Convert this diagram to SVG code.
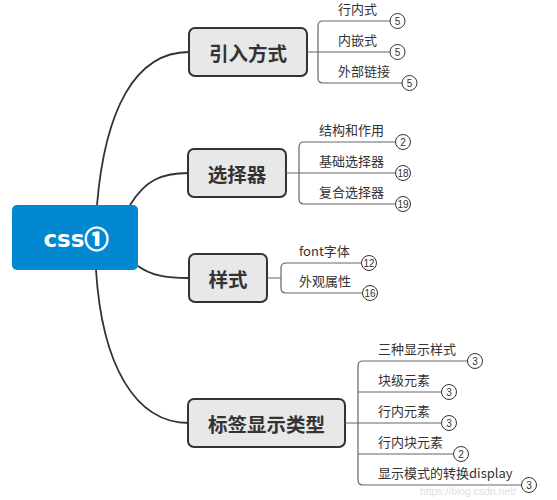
<svg xmlns="http://www.w3.org/2000/svg" width="557" height="500" viewBox="0 0 557 500">
<style>
.root{fill:#0288d1;}
.roottxt{font-family:"DejaVu Sans","Noto Sans CJK SC",sans-serif;font-weight:bold;font-size:23px;fill:#fff;text-anchor:middle;}
.circ{font-family:"Noto Sans CJK SC",sans-serif;font-size:24px;font-weight:bold;stroke:#fff;stroke-width:1.2;}
.box{fill:#e8e8e8;stroke:#333;stroke-width:2;}
.btxt{font-family:"Noto Sans CJK SC",sans-serif;font-weight:bold;font-size:19.5px;fill:#333;text-anchor:middle;dominant-baseline:central;}
.conn{fill:none;stroke:#333;stroke-width:1.8;}
.br{fill:none;stroke:#666;stroke-width:1.2;}
.leaf{font-family:"Noto Sans CJK SC","Noto Sans",sans-serif;font-size:13px;fill:#333;}
.cnt circle{fill:#fff;stroke:#333;stroke-width:1;}
.cnt text{font-family:"Liberation Sans",sans-serif;font-size:10px;fill:#333;text-anchor:middle;dominant-baseline:central;}
</style>
<rect width="557" height="500" fill="#fff"/>
<g id="connectors">
<path class="conn" d="M97,205 C105,110 135,52 189,52"/>
<path class="conn" d="M130,205 C145,181 160,173 189,173"/>
<path class="conn" d="M138,266 C150,275 165,278 189,278"/>
<path class="conn" d="M96,270 C102,365 135,423 189,423"/>
</g>
<g id="root">
<rect class="root" x="12" y="205" width="126" height="65" rx="5"/>
<text class="roottxt" x="76" y="247">css<tspan class="circ" dy="1">①</tspan></text>
</g>
<g id="n1">
<rect class="box" x="189" y="28" width="118" height="48" rx="6"/>
<text class="btxt" x="248" y="52">引入方式</text>
<path class="br" d="M307,52 H390 M390,21 H323 Q318,21 318,26 V78 Q318,83 323,83 H402"/>
<text class="leaf" x="338" y="14">行内式</text>
<text class="leaf" x="338" y="45">内嵌式</text>
<text class="leaf" x="338" y="76">外部链接</text>
<g class="cnt"><circle cx="397.5" cy="21" r="7.5"/><text x="397.5" y="21">5</text></g>
<g class="cnt"><circle cx="397.5" cy="52" r="7.5"/><text x="397.5" y="52">5</text></g>
<g class="cnt"><circle cx="409.5" cy="83" r="7.5"/><text x="409.5" y="83">5</text></g>
</g>
<g id="n2">
<rect class="box" x="188" y="149" width="98" height="48" rx="6"/>
<text class="btxt" x="237" y="173">选择器</text>
<path class="br" d="M286,173 H395 M395,142 H304 Q299,142 299,147 V199 Q299,204 304,204 H395"/>
<text class="leaf" x="319" y="135">结构和作用</text>
<text class="leaf" x="319" y="166">基础选择器</text>
<text class="leaf" x="319" y="197">复合选择器</text>
<g class="cnt"><circle cx="403" cy="142" r="7.5"/><text x="403" y="142">2</text></g>
<g class="cnt"><circle cx="403" cy="173" r="7.5"/><text x="403" y="173">18</text></g>
<g class="cnt"><circle cx="403" cy="204" r="7.5"/><text x="403" y="204">19</text></g>
</g>
<g id="n3">
<rect class="box" x="189" y="254" width="78" height="48" rx="6"/>
<text class="btxt" x="228" y="278">样式</text>
<path class="br" d="M267,278 H281 M361.5,263 H286 Q281,263 281,268 V288 Q281,293 286,293 H362.5"/>
<text class="leaf" x="299" y="256">font字体</text>
<text class="leaf" x="299" y="286">外观属性</text>
<g class="cnt"><circle cx="369" cy="263" r="7.5"/><text x="369" y="263">12</text></g>
<g class="cnt"><circle cx="370" cy="293" r="7.5"/><text x="370" y="293">16</text></g>
</g>
<g id="n4">
<rect class="box" x="188" y="399" width="157" height="48" rx="6"/>
<text class="btxt" x="266.5" y="423">标签显示类型</text>
<path class="br" d="M345,423 H441.5 M467.5,361 H363 Q358,361 358,366 V480 Q358,485 363,485 H521.5 M358,392 H441.5 M358,454 H453.5"/>
<text class="leaf" x="378" y="354">三种显示样式</text>
<text class="leaf" x="378" y="385">块级元素</text>
<text class="leaf" x="378" y="416">行内元素</text>
<text class="leaf" x="378" y="447">行内块元素</text>
<text class="leaf" x="378" y="478">显示模式的转换display</text>
<g class="cnt"><circle cx="475" cy="361" r="7.5"/><text x="475" y="361">3</text></g>
<g class="cnt"><circle cx="449" cy="392" r="7.5"/><text x="449" y="392">3</text></g>
<g class="cnt"><circle cx="449" cy="423" r="7.5"/><text x="449" y="423">3</text></g>
<g class="cnt"><circle cx="461" cy="454" r="7.5"/><text x="461" y="454">2</text></g>
<g class="cnt"><circle cx="529" cy="485" r="7.5"/><text x="529" y="485">3</text></g>
</g>
<text x="420" y="495" font-family="Liberation Sans,sans-serif" font-size="11" fill="#e0e0e0" textLength="96" lengthAdjust="spacingAndGlyphs">https://blog.csdn.net/</text>
</svg>
